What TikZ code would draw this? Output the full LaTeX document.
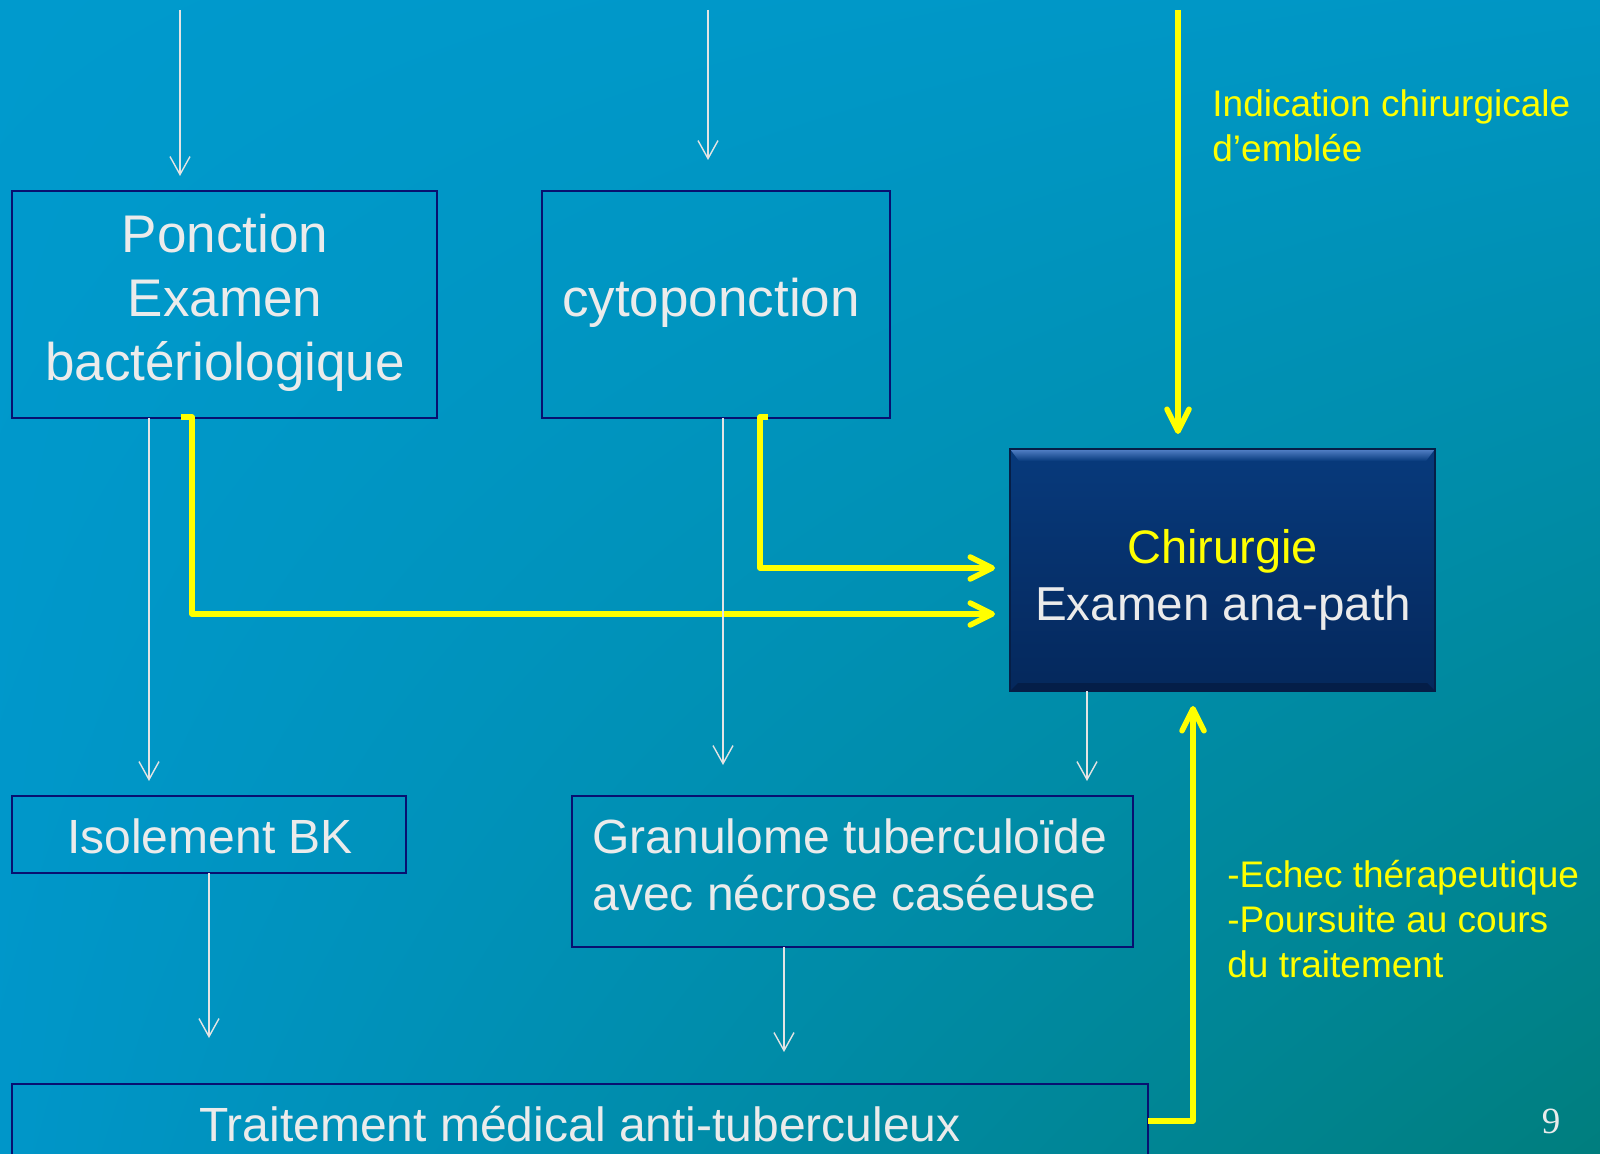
\documentclass[tikz,border=0pt]{standalone}
\usepackage{fontspec}
\setmainfont{Liberation Sans}
\newfontfamily\myserif{Liberation Serif}
\usetikzlibrary{arrows.meta,calc,shadings}
\definecolor{bgUL}{RGB}{0,154,205}
\definecolor{bgUR}{RGB}{0,150,196}
\definecolor{bgLL}{RGB}{0,150,201}
\definecolor{bgLR}{RGB}{0,126,126}
\definecolor{navy}{RGB}{8,16,112}
\definecolor{txtgray}{RGB}{235,235,235}
\definecolor{wcol}{RGB}{228,228,228}
\definecolor{yel}{RGB}{255,255,0}
\definecolor{chirtop}{RGB}{7,58,124}
\definecolor{chirbot}{RGB}{5,40,92}
\definecolor{bevtop}{RGB}{85,130,200}
\definecolor{bevbot}{RGB}{4,30,72}
\definecolor{chirline}{RGB}{6,30,70}
\newcommand\myfA{\fontsize{26.5pt}{32pt}\selectfont}
\newcommand\myfB{\fontsize{23.5pt}{28pt}\selectfont}
\newcommand\myfD{\fontsize{23.8pt}{28pt}\selectfont}
\newcommand\myfC{\fontsize{24pt}{28pt}\selectfont}
\begin{document}
\begin{tikzpicture}[x=0.5pt,y=-0.5pt,
  box/.style={draw=navy, line width=1pt, inner sep=0pt, outer sep=0pt},
  wline/.style={draw=wcol, line width=0.7pt, -{Straight Barb[length=9pt,width=10pt]}},
  yline/.style={draw=yel, line width=2.75pt, line join=round, -{Straight Barb[length=11pt,width=11pt,round]}},
  wtxt/.style={text=txtgray, anchor=base, inner sep=0pt},
  ytxt/.style={text=yel, anchor=base west, inner sep=0pt, font=\fontsize{18.5pt}{22pt}\selectfont},
]
\useasboundingbox (0,0) rectangle (1600,1154);
\clip (0,0) rectangle (1600,1154);
\shade[upper left=bgUL, upper right=bgUR, lower left=bgLL, lower right=bgLR] (0,0) rectangle (1600,1154);

% boxes
\node[box, minimum width=212.5pt, minimum height=113.5pt] (b1) at (224.5,304.5) {};
\node[box, minimum width=174pt, minimum height=113.5pt] (b2) at (716,304.5) {};
\node[box, minimum width=197pt, minimum height=38.5pt] (iso) at (209,834.5) {};
\node[box, minimum width=280.5pt, minimum height=75.5pt] (gran) at (852.5,871.5) {};
\node[box, minimum width=568pt, minimum height=37pt] (tr) at (580,1121) {};
\node[draw=none, top color=chirtop, bottom color=chirbot, inner sep=0pt, outer sep=0pt,
      minimum width=212.5pt, minimum height=121pt] (chir) at (1222.5,570) {};
\shade[top color=bevtop, bottom color=chirtop] (chir.north west) -- (chir.north east)
   -- ($(chir.north east)+(-9,12)$) -- ($(chir.north west)+(9,12)$) -- cycle;
\fill[bevbot] (chir.south west) -- (chir.south east)
   -- ($(chir.south east)+(-8,-8)$) -- ($(chir.south west)+(8,-8)$) -- cycle;
\draw[draw=chirline, line width=0.8pt] (chir.north west) rectangle (chir.south east);

% yellow connectors
\coordinate (ytop) at (1178,10);
\draw[yline] ($(b1.south)+(-43.5,-1)$) -- ++(11,0) |- ($(chir.west)+(-15,44)$);
\draw[yline] ($(b2.south)+(52,-1)$) -- ++(-8,0) |- ($(chir.west)+(-15,-2)$);
\draw[yline] (ytop) -- ($(chir.north)+(-44.5,-15)$);
\draw[yline] (tr.east) -| ($(chir.south)+(-29.5,15)$);

% white connectors
\coordinate (wt1) at (180,10);
\coordinate (wt2) at (708,10);
\draw[wline] (wt1) -- ($(b1.north)+(-44.5,-15)$);
\draw[wline] (wt2) -- ($(b2.north)+(-8,-31)$);
\draw[wline] ($(b1.south)+(-75.5,0)$) -- ($(iso.north)+(-60,-15)$);
\draw[wline] ($(b2.south)+(7,0)$) -- ($(gran.north)+(-129.5,-31)$);
\draw[wline] ($(chir.south)+(-135.5,0)$) -- ($(gran.north)+(234.5,-15)$);
\draw[wline] (iso.south) -- ($(tr.north)+(-371,-46)$);
\draw[wline] ($(gran.south)+(-68.5,0)$) -- ($(tr.north)+(204,-32)$);

% texts
\node[wtxt, font=\myfA] (t1a) at (225,253) {Ponction};
\node[wtxt, font=\myfA] (t1b) at (225,317) {Examen};
\node[wtxt, font=\myfA] (t1c) at (225,381) {bactériologique};
\node[wtxt, font=\myfA] (t2) at (711,317) {cytoponction};
\node[wtxt, font=\myfB, text=yel] (tc1) at (1222.5,563) {Chirurgie};
\node[wtxt, font=\myfD] (tc2) at (1223,620) {Examen ana-path};
\node[wtxt, font=\myfC] (ti) at (210,853) {Isolement BK};
\node[wtxt, font=\myfC, anchor=base west] (tg1) at (592,853) {Granulome tuberculoïde};
\node[wtxt, font=\myfC, anchor=base west] (tg2) at (592,910) {avec nécrose caséeuse};
\node[wtxt, font=\myfC] (tt) at (580,1141) {Traitement médical anti-tuberculeux};
\node[ytxt] (y1) at (1212,117) {Indication chirurgicale};
\node[ytxt] (y2) at (1212,162) {d’emblée};
\node[ytxt] (y3) at (1227,887) {-Echec thérapeutique};
\node[ytxt] (y4) at (1227,932) {-Poursuite au cours};
\node[ytxt] (y5) at (1227,977) {du traitement};
\node[wtxt, font=\myserif\fontsize{18.5pt}{22pt}\selectfont] (pg) at (1551,1133) {9};
\end{tikzpicture}
\end{document}
